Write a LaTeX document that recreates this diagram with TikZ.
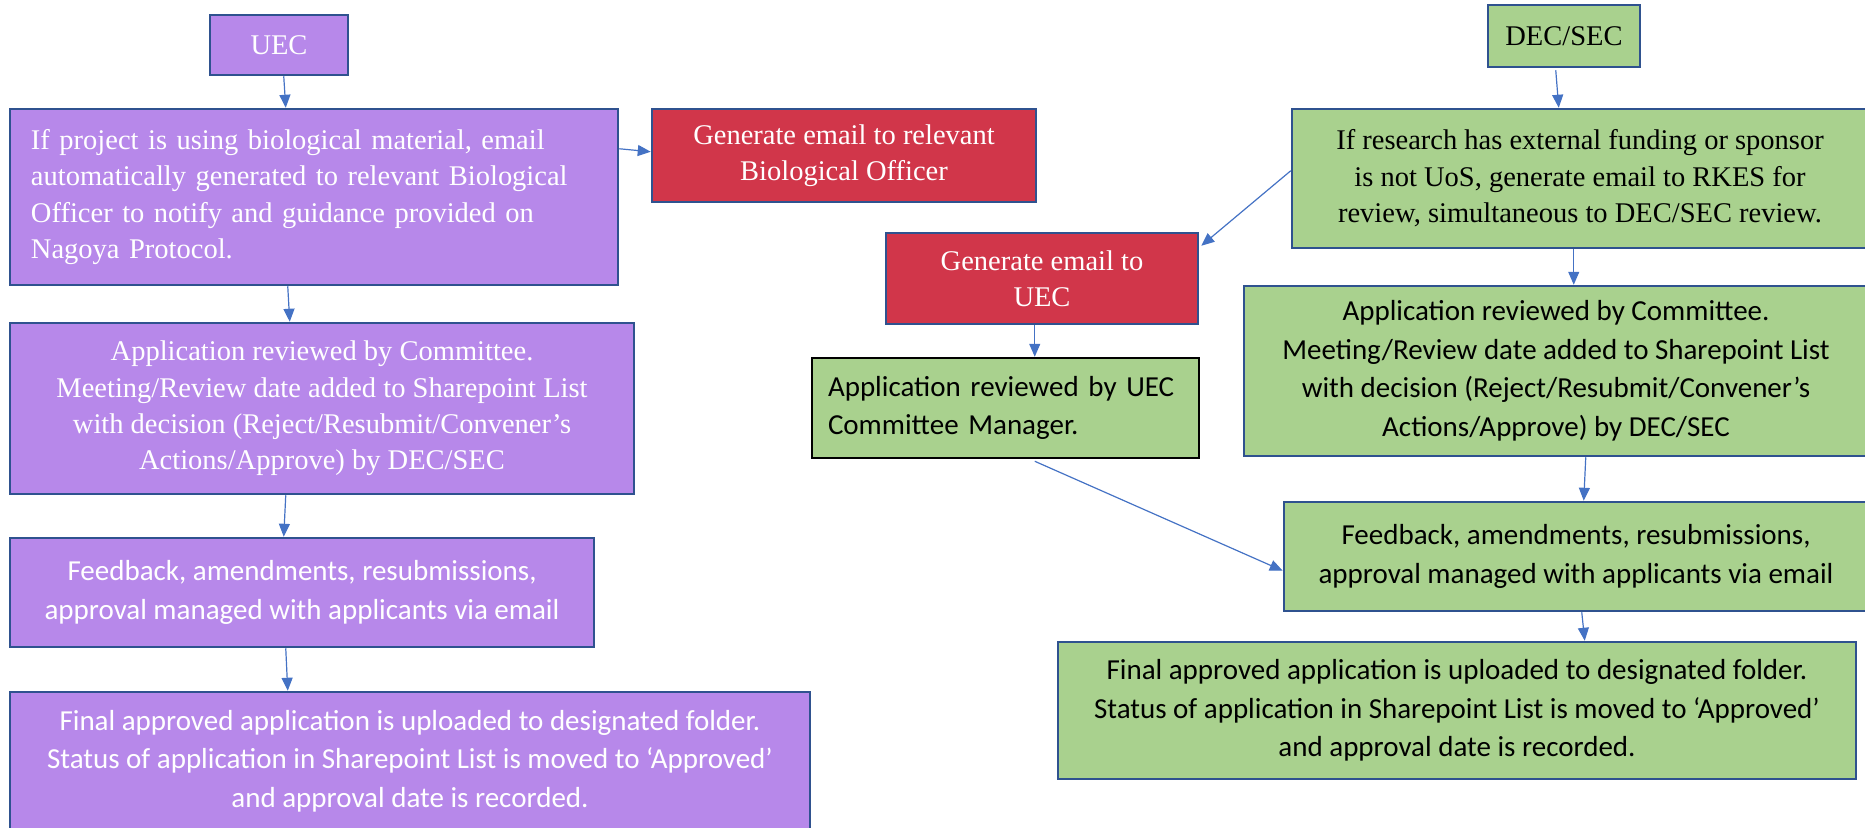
\documentclass[tikz,border=0pt]{standalone}
\usepackage{fontspec}
\newfontfamily\tnrfont{Liberation Serif}
\newfontfamily\calfont{Carlito}
\usetikzlibrary{arrows.meta,calc}
\definecolor{purp}{HTML}{B788EA}
\definecolor{redb}{HTML}{D1364A}
\definecolor{grn}{HTML}{A9D18E}
\definecolor{bord}{HTML}{2F528F}
\definecolor{arr}{HTML}{4472C4}
\begin{document}
\begin{tikzpicture}[x=0.5pt,y=-0.5pt,
 box/.style={draw=bord,line width=1.25pt,inner sep=0pt,align=center},
 pbox/.style={box,fill=purp,text=white},
 rbox/.style={box,fill=redb,text=white},
 gbox/.style={box,fill=grn,text=black},
 serif/.style={font=\tnrfont\fontsize{14.25pt}{18.2pt}\selectfont},
 sans/.style={font=\calfont\fontsize{14.5pt}{19.25pt}\selectfont},
 conn/.style={draw=arr,line width=0.6pt,-{Triangle[length=6.5pt,width=5.5pt]}},
]
\path[use as bounding box,clip] (0,0) rectangle (1865,827);

% left column
\node[pbox,serif,minimum width=69pt,minimum height=30pt] (uec) at (279,45) {UEC};
\node[pbox,serif,minimum width=304pt,minimum height=88pt,text width=283pt,inner xsep=10.5pt,align=left] (bio) at (314,197)
 {If project is using biological material, email\\automatically generated to relevant Biological\\Officer to notify and guidance provided on\\Nagoya Protocol.};
\node[rbox,serif,minimum width=192pt,minimum height=46.5pt] (redbio) at (844,155.5)
 {Generate email to relevant\\Biological Officer};
\node[pbox,serif,minimum width=312pt,minimum height=85.5pt] (lapp) at (322,408.5)
 {Application reviewed by Committee.\\Meeting/Review date added to Sharepoint List\\with decision (Reject/Resubmit/Convener’s\\Actions/Approve) by DEC/SEC};
\node[pbox,sans,minimum width=292pt,minimum height=54.5pt] (lfb) at (302,592.5)
 {Feedback, amendments, resubmissions,\\approval managed with applicants via email};
\node[pbox,sans,minimum width=400pt,minimum height=69pt] (lfin) at (410,761)
 {Final approved application is uploaded to designated folder.\\Status of application in Sharepoint List is moved to ‘Approved’\\and approval date is recorded.};

% right column
\node[gbox,serif,minimum width=76pt,minimum height=31pt] (dec) at (1564,36) {DEC/SEC};
\node[gbox,serif,minimum width=288pt,minimum height=69.5pt] (ifr) at (1580,178.5)
 {If research has external funding or sponsor\\is not UoS, generate email to RKES for\\review, simultaneous to DEC/SEC review.};
\node[rbox,serif,minimum width=156pt,minimum height=45.5pt] (reduec) at (1042,278.5)
 {Generate email to\\UEC};
\node[gbox,sans,draw=black,minimum width=193.5pt,minimum height=50pt,text width=177.5pt,inner xsep=8pt,align=left] (mgr) at (1005.5,408)
 {Application reviewed by UEC\\Committee Manager.};
\node[gbox,sans,minimum width=312pt,minimum height=85pt] (rapp) at (1556,371)
 {Application reviewed by Committee.\\Meeting/Review date added to Sharepoint List\\with decision (Reject/Resubmit/Convener’s\\Actions/Approve) by DEC/SEC};
\node[gbox,sans,minimum width=292pt,minimum height=54.5pt] (rfb) at (1576,556.5)
 {Feedback, amendments, resubmissions,\\approval managed with applicants via email};
\node[gbox,sans,minimum width=399pt,minimum height=68.5pt] (rfin) at (1457,710.5)
 {Final approved application is uploaded to designated folder.\\Status of application in Sharepoint List is moved to ‘Approved’\\and approval date is recorded.};

% connectors
\draw[conn] ($(uec.south west)+(75,0)$) -- ($(bio.north west)+(277,0)$);
\draw[conn] ($(bio.north east)+(0,41)$) -- ($(redbio.north west)+(0,44)$);
\draw[conn] ($(bio.south west)+(279,0)$) -- ($(lapp.north west)+(281,0)$);
\draw[conn] ($(lapp.south west)+(277,0)$) -- ($(lfb.north west)+(275,0)$);
\draw[conn] ($(lfb.south west)+(277,0)$) -- ($(lfin.north west)+(279,0)$);
\draw[conn] ($(dec.south west)+(69,2)$) -- ($(ifr.north west)+(268,0)$);
\draw[conn] ($(ifr.north west)+(0,63)$) -- ($(reduec.north east)+(2,14)$);
\draw[conn] ($(ifr.south west)+(283,0)$) -- ($(rapp.north west)+(331,0)$);
\draw[conn] ($(reduec.south west)+(150,0)$) -- ($(mgr.north west)+(224,0)$);
\draw[conn] ($(mgr.south west)+(224,2)$) -- ($(rfb.north west)+(0,70)$);
\draw[conn] ($(rapp.south west)+(343,0)$) -- ($(rfb.north west)+(301,0)$);
\draw[conn] ($(rfb.south west)+(299,0)$) -- ($(rfin.north west)+(528,0)$);
\end{tikzpicture}
\end{document}
